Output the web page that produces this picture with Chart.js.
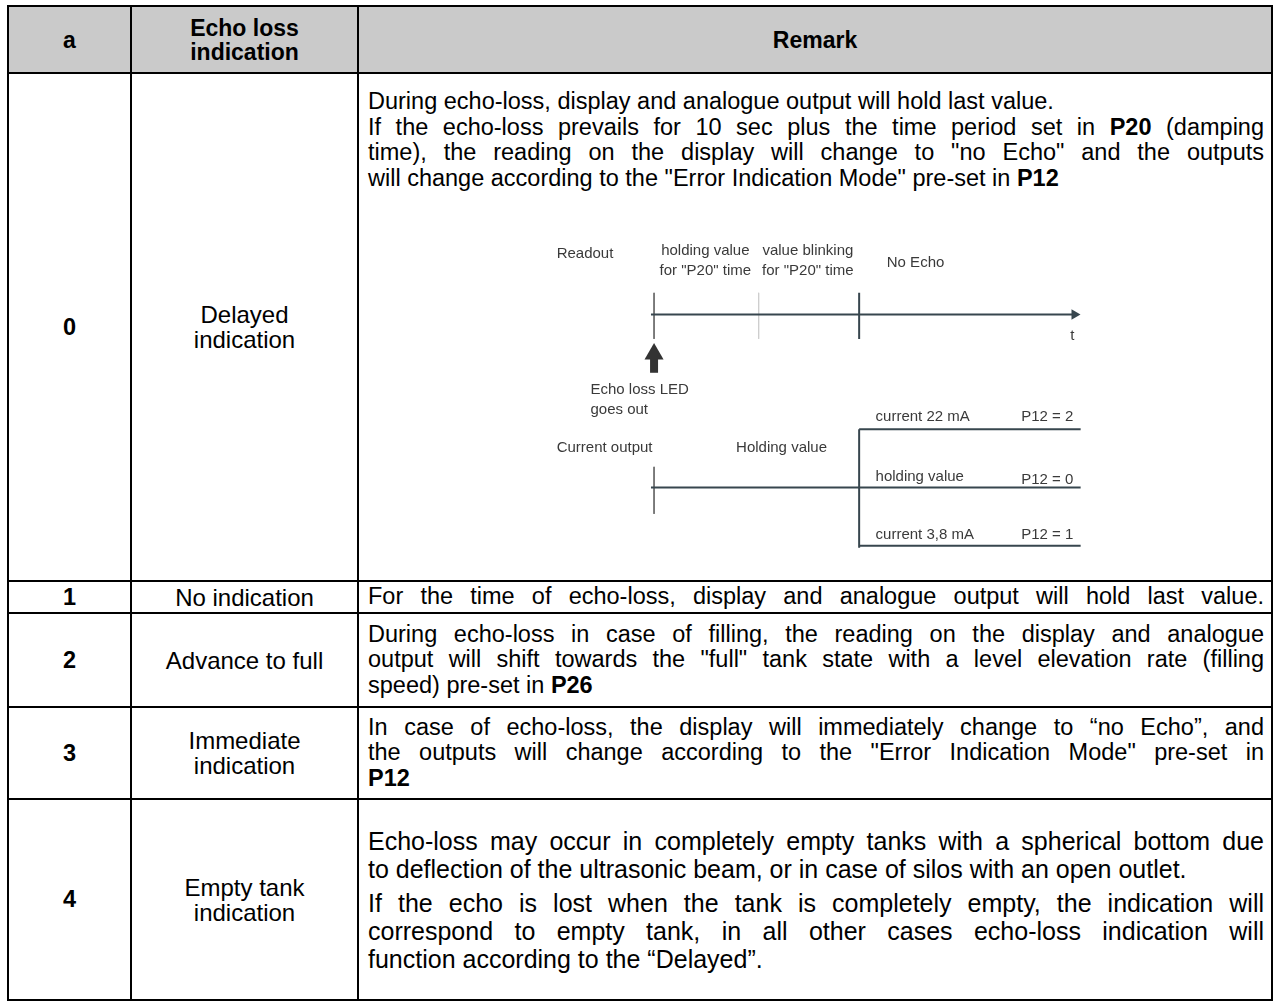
<!DOCTYPE html>
<html>
<head>
<meta charset="utf-8">
<script src="https://cdn.jsdelivr.net/npm/chart.js@4.4.1/dist/chart.umd.min.js"></script>
<style>
  body { margin: 0; background: #fff; font-family: "Liberation Sans", Arial, sans-serif; color: #000; }
  #tbl { position: absolute; left: 7px; top: 5px; width: 1266px; border-collapse: collapse; table-layout: fixed; }
  #tbl td { border: 2px solid #000; padding: 0; font-size: 23.5px; }
  #tbl tr.head td { background: #cacaca; font-weight: bold; text-align: center; line-height: 24px; font-size: 23px; }
  #tbl td.num { text-align: center; font-weight: bold; }
  #tbl td.name { text-align: center; line-height: 25px; font-size: 24px; }
  #tbl td.rem { padding: 0 7px 0 9px; line-height: 25.5px; }
  #tbl td.big { font-size: 25px; line-height: 28px; }
  .j { text-align: justify; text-align-last: justify; }
  .gap { height: 6px; }
  #diagram { position: absolute; left: 520px; top: 200px; }
</style>
</head>
<body>
<table id="tbl">
  <colgroup><col style="width:123px"><col style="width:227px"><col></colgroup>
  <tr class="head" style="height:67px"><td>a</td><td>Echo loss<br>indication</td><td>Remark</td></tr>
  <tr style="height:508px">
    <td class="num">0</td><td class="name">Delayed<br>indication</td>
    <td class="rem" style="vertical-align:top;padding-top:15px">
      <div>During echo-loss, display and analogue output will hold last value.</div>
      <div class="j">If the echo-loss prevails for 10 sec plus the time period set in <b>P20</b> (damping</div>
      <div class="j">time), the reading on the display will change to "no Echo" and the outputs</div>
      <div>will change according to the "Error Indication Mode" pre-set in <b>P12</b></div>
    </td>
  </tr>
  <tr style="height:32px">
    <td class="num">1</td><td class="name">No indication</td>
    <td class="rem"><div class="j">For the time of echo-loss, display and analogue output will hold last value.</div></td>
  </tr>
  <tr style="height:94px">
    <td class="num">2</td><td class="name">Advance to full</td>
    <td class="rem">
      <div class="j">During echo-loss in case of filling, the reading on the display and analogue</div>
      <div class="j">output will shift towards the "full" tank state with a level elevation rate (filling</div>
      <div>speed) pre-set in <b>P26</b></div>
    </td>
  </tr>
  <tr style="height:92px">
    <td class="num">3</td><td class="name">Immediate<br>indication</td>
    <td class="rem">
      <div class="j">In case of echo-loss, the display will immediately change to “no Echo”, and</div>
      <div class="j">the outputs will change according to the "Error Indication Mode" pre-set in</div>
      <div><b>P12</b></div>
    </td>
  </tr>
  <tr style="height:201px">
    <td class="num">4</td><td class="name">Empty tank<br>indication</td>
    <td class="rem big">
      <div class="j">Echo-loss may occur in completely empty tanks with a spherical bottom due</div>
      <div>to deflection of the ultrasonic beam, or in case of silos with an open outlet.</div>
      <div class="gap"></div>
      <div class="j">If the echo is lost when the tank is completely empty, the indication will</div>
      <div class="j">correspond to empty tank, in all other cases echo-loss indication will</div>
      <div>function according to the “Delayed”.</div>
    </td>
  </tr>
</table>

<canvas id="diagram" width="586" height="370"></canvas>

<script>
// time axis in units of the P20 damping time, 0 = moment the echo is lost
const phaseTimes = [0, 1.02, 2.0];
const axisStart = -0.03;
const axisEnd = 4.08;
const readoutLevel = 26.0;
const tickTop = 28.3;
const tickBottom = 23.4;

const readoutPhases = [['holding value', 'for "P20" time'], ['value blinking', 'for "P20" time'], ['No Echo']];
const readoutPhaseT = [0.5, 1.5, 2.55];
const readoutPhaseY = [[32.8, 30.6], [32.8, 30.6], [31.5]];

// current output after the P20 periods, one line per P12 setting
const currentModes = ['current 22 mA', 'holding value', 'current 3,8 mA'];
const currentCodes = ['P12 = 2', 'P12 = 0', 'P12 = 1'];
const currentLevels = [13.8, 7.6, 1.4];
const currentLabelLevels = [15.1, 8.7, 2.6];
const holdMark = [9.8, 4.8];

// arrow under the readout axis
const ledArrow = [19.8, 21.3];
const ledArrowHead = 21.8;

const diagramLabels = [
  { text: 'Readout', t: -0.95, y: 32.4, align: 'left' },
  { text: 'Echo loss LED', t: -0.62, y: 18.0, align: 'left' },
  { text: 'goes out', t: -0.62, y: 15.9, align: 'left' },
  { text: 'Current output', t: -0.95, y: 11.8, align: 'left' },
  { text: 'Holding value', t: 0.80, y: 11.8, align: 'left' },
  { text: 't', t: 4.08, y: 23.7, align: 'center' }
];

const lineColor = '#37464e';
const textColor = '#3a3a3a';

function seg(x1, y1, x2, y2, color, width) {
  return {
    data: [{ x: x1, y: y1 }, { x: x2, y: y2 }],
    showLine: true, borderColor: color, borderWidth: width,
    pointRadius: 0, borderCapStyle: 'butt'
  };
}

const datasets = [];
// readout time axis with arrow
datasets.push(seg(axisStart, readoutLevel, axisEnd, readoutLevel, lineColor, 2));
datasets.push({
  data: [{ x: axisEnd + 0.02, y: readoutLevel }], pointStyle: 'triangle', rotation: 90,
  pointRadius: 6, backgroundColor: lineColor, borderColor: lineColor, borderWidth: 0
});
// phase ticks
datasets.push(seg(phaseTimes[0], tickTop, phaseTimes[0], tickBottom, '#6b6b6b', 1));
datasets.push(seg(phaseTimes[1], tickTop, phaseTimes[1], tickBottom, '#cfcfcf', 1));
datasets.push(seg(phaseTimes[2], tickTop, phaseTimes[2], tickBottom, lineColor, 2));
// echo loss LED arrow
datasets.push(seg(0, ledArrow[0], 0, ledArrow[1], '#333333', 8));
datasets.push({
  data: [{ x: 0, y: ledArrowHead }], pointStyle: 'triangle', rotation: 0,
  pointRadius: 11, backgroundColor: '#333333', borderColor: '#333333', borderWidth: 0
});
// current output lines
datasets.push(seg(axisStart, currentLevels[1], axisEnd + 0.08, currentLevels[1], lineColor, 2));
datasets.push(seg(phaseTimes[2], currentLevels[0], axisEnd + 0.08, currentLevels[0], lineColor, 2));
datasets.push(seg(phaseTimes[2], currentLevels[2], axisEnd + 0.08, currentLevels[2], lineColor, 2));
datasets.push(seg(phaseTimes[2], currentLevels[0], phaseTimes[2], currentLevels[2] - 0.2, lineColor, 2));
datasets.push(seg(0, holdMark[0], 0, holdMark[1], '#6b6b6b', 1));

const labelPlugin = {
  id: 'labels',
  afterDatasetsDraw(chart) {
    const ctx = chart.ctx, xs = chart.scales.x, ys = chart.scales.y;
    ctx.save();
    ctx.fillStyle = textColor;
    ctx.font = '15px "Liberation Sans", Arial, sans-serif';
    ctx.textBaseline = 'middle';
    const put = (text, t, y, align) => {
      ctx.textAlign = align;
      ctx.fillText(text, xs.getPixelForValue(t), ys.getPixelForValue(y));
    };
    diagramLabels.forEach(l => put(l.text, l.t, l.y, l.align));
    readoutPhases.forEach((lines, i) => {
      lines.forEach((s, k) => put(s, readoutPhaseT[i], readoutPhaseY[i][k], 'center'));
    });
    currentModes.forEach((s, i) => {
      put(s, 2.16, currentLabelLevels[i], 'left');
      put(currentCodes[i], 3.58, currentLabelLevels[i] - (i === 1 ? 0.3 : 0), 'left');
    });
    ctx.restore();
  }
};

new Chart(document.getElementById('diagram'), {
  type: 'scatter',
  data: { datasets },
  options: {
    responsive: false,
    animation: false,
    devicePixelRatio: 1,
    layout: { padding: 0 },
    plugins: { legend: { display: false }, tooltip: { enabled: false } },
    scales: {
      x: { type: 'linear', min: -1.2, max: 4.3, display: false },
      y: { type: 'linear', min: 0, max: 37, display: false }
    }
  },
  plugins: [labelPlugin]
});
</script>
</body>
</html>
